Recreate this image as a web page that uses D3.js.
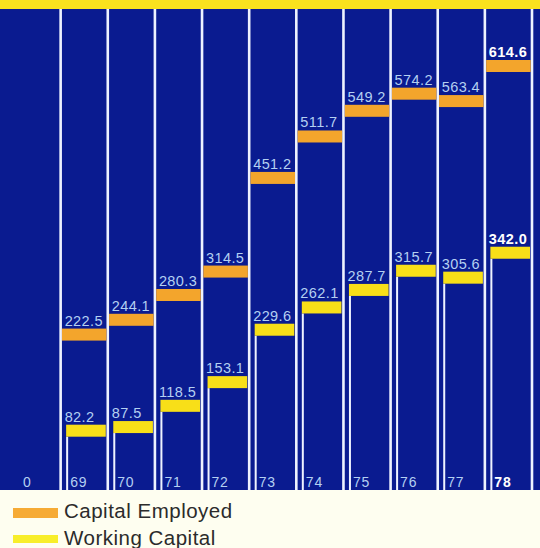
<!DOCTYPE html>
<html>
<head>
<meta charset="utf-8">
<script src="https://cdn.jsdelivr.net/npm/d3@7"></script>
<style>
  html, body { margin: 0; padding: 0; background: #fefef0; }
  svg { display: block; }
  text { font-family: "Liberation Sans", Arial, Helvetica, sans-serif; }
</style>
</head>
<body>
<div id="chart"></div>
<script>
// Capital employed vs working capital, 1969-78 (£m)

const years = ["0", "69", "70", "71", "72", "73", "74", "75", "76", "77", "78"]
const capitalEmployed = [null, 222.5, 244.1, 280.3, 314.5, 451.2, 511.7, 549.2, 574.2, 563.4, 614.6]
const workingCapital = [null, 82.2, 87.5, 118.5, 153.1, 229.6, 262.1, 287.7, 315.7, 305.6, 342.0]
const legendLabels = ["Capital Employed", "Working Capital"]

const WIDTH = 540
const HEIGHT = 548
const PANEL_TOP = 9
const PANEL_BOTTOM = 490
const BAR_H = 12

const BLUE = "#0a1b90"
const ORANGE = "#f3a52c"
const YELLOW = "#f8df18"
const LINE = "#eef2ff"
const LABEL = "#b4d0f2"

const svg = d3.select("#chart")
  .append("svg")
  .attr("width", WIDTH)
  .attr("height", HEIGHT)

// x: left edge of each column (the white separator)
const x = d3.scaleBand()
  .domain(years)
  .range([13.5, 532])
  .paddingInner(0)
  .paddingOuter(0)
const step = x.step()

const y = d3.scaleLinear()
  .domain([0, 690])
  .range([481, 8.35])

const rows = years.map((yr, i) => ({
  year: yr,
  ce: capitalEmployed[i],
  wc: workingCapital[i],
  bold: yr === "78"
}))

// background pieces
svg.append("rect")
  .attr("x", 0).attr("y", PANEL_TOP)
  .attr("width", WIDTH).attr("height", PANEL_BOTTOM - PANEL_TOP)
  .attr("fill", BLUE)
svg.append("rect")
  .attr("x", 0).attr("y", 0)
  .attr("width", WIDTH).attr("height", PANEL_TOP)
  .attr("fill", "#f9e21e")

// column separators (one before each year + one closing line)
const sepX = years.slice(1).map(d => x(d)).concat([x.range()[1]])
svg.selectAll("rect.sep")
  .data(sepX)
  .enter()
  .append("rect")
    .attr("class", "sep")
    .attr("x", d => d - 1.3)
    .attr("y", PANEL_TOP)
    .attr("width", 2.6)
    .attr("height", PANEL_BOTTOM - PANEL_TOP)
    .attr("fill", LINE)

const cols = svg.selectAll("g.col")
  .data(rows.filter(d => d.ce != null))
  .enter()
  .append("g")
    .attr("class", "col")
    .attr("transform", d => `translate(${x(d.year)},0)`)

// thin line under the working capital bar
cols.append("rect")
  .attr("x", 5.5)
  .attr("y", d => y(d.wc) + BAR_H)
  .attr("width", 2)
  .attr("height", d => PANEL_BOTTOM - y(d.wc) - BAR_H)
  .attr("fill", LINE)

cols.append("rect")
  .attr("x", 1.3)
  .attr("y", d => y(d.ce))
  .attr("width", step - 2.6)
  .attr("height", BAR_H)
  .attr("fill", ORANGE)

cols.append("rect")
  .attr("x", 5.5)
  .attr("y", d => y(d.wc))
  .attr("width", step - 7.5)
  .attr("height", BAR_H)
  .attr("fill", YELLOW)

// value labels
cols.append("text")
  .attr("x", 4)
  .attr("y", d => y(d.ce) - 3)
  .text(d => d.ce.toFixed(1))
cols.append("text")
  .attr("x", 4)
  .attr("y", d => y(d.wc) - 3)
  .text(d => d.wc.toFixed(1))
cols.selectAll("text")
  .attr("font-size", 14.5)
  .attr("letter-spacing", 0.4)
  .attr("fill", d => d.bold ? "#ffffff" : LABEL)
  .attr("font-weight", d => d.bold ? "bold" : "normal")

// year labels along the bottom
svg.selectAll("text.year")
  .data(rows)
  .enter()
  .append("text")
    .attr("class", "year")
    .attr("x", d => x(d.year) + 9.5)
    .attr("y", 486.5)
    .attr("font-size", 14)
    .attr("letter-spacing", 0.8)
    .attr("fill", d => d.bold ? "#ffffff" : LABEL)
    .attr("font-weight", d => d.bold ? "bold" : "normal")
    .text(d => d.year)

// legend
const legend = svg.selectAll("g.legend")
  .data(legendLabels)
  .enter()
  .append("g")
    .attr("class", "legend")
    .attr("transform", (d, i) => `translate(13,${508 + i * 27})`)

legend.append("rect")
  .attr("width", 45)
  .attr("height", (d, i) => i === 0 ? 10 : 8)
  .attr("fill", (d, i) => i === 0 ? "#f6ab35" : "#f8ee2a")

legend.append("text")
  .attr("x", 51)
  .attr("y", 9.5)
  .attr("font-size", 20.5)
  .attr("letter-spacing", 0.5)
  .attr("fill", "#2b2b2b")
  .text(d => d)
</script>
</body>
</html>
